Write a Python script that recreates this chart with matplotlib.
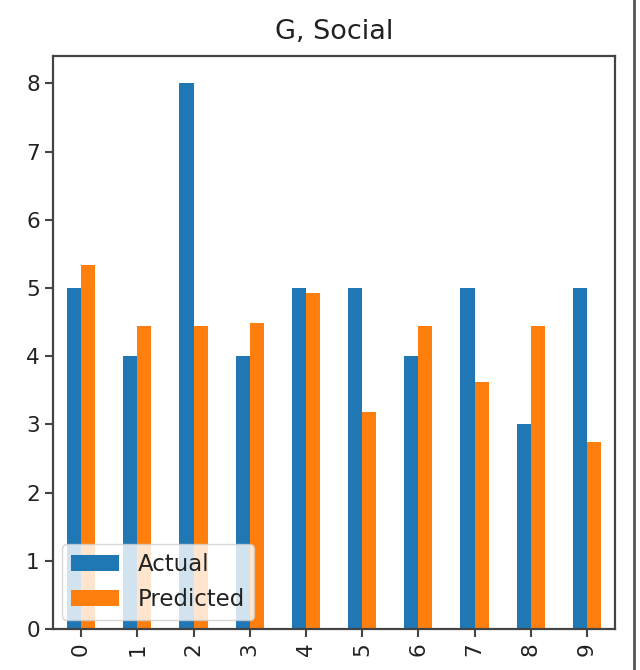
import numpy as np
import matplotlib
matplotlib.use("Agg")
import matplotlib.pyplot as plt
from matplotlib.lines import Line2D

categories = [str(i) for i in range(10)]
actual = [5, 4, 8, 4, 5, 5, 4, 5, 3, 5]
predicted = [5.33, 4.44, 4.44, 4.48, 4.92, 3.18, 4.44, 3.62, 4.44, 2.74]

fig = plt.figure(figsize=(6.4, 6.7), dpi=100)
ax = fig.add_axes([53 / 640, 1 - 629 / 670, (615 - 53) / 640, (629 - 56) / 670])

x = np.arange(len(categories))
w = 0.25
ax.bar(x - w / 2, actual, width=w, color="#1f77b4", label="Actual")
ax.bar(x + w / 2, predicted, width=w, color="#ff7f0e", label="Predicted")

ax.set_xlim(-0.5, len(categories) - 0.5)
ax.set_ylim(0, 8.4)
ax.set_xticks(x)
ax.set_xticklabels(categories, rotation=90)
ax.tick_params(labelsize=15.5, length=6, width=1.5, color="#444444", labelcolor="#222222")
for s in ax.spines.values():
    s.set_linewidth(1.6)
    s.set_color("#444444")
ax.set_title("G, Social", fontsize=19.5, pad=12, color="#222222")
leg = ax.legend(loc="lower left", fontsize=16.5, handlelength=2.1,
                borderaxespad=0.4)
for t in leg.get_texts():
    t.set_color("#222222")

# window edge on the right
fig.add_artist(Line2D([634 / 640, 634 / 640], [0, 1], transform=fig.transFigure,
                      color="#555555", linewidth=2))

fig.savefig("out.png", dpi=100)
